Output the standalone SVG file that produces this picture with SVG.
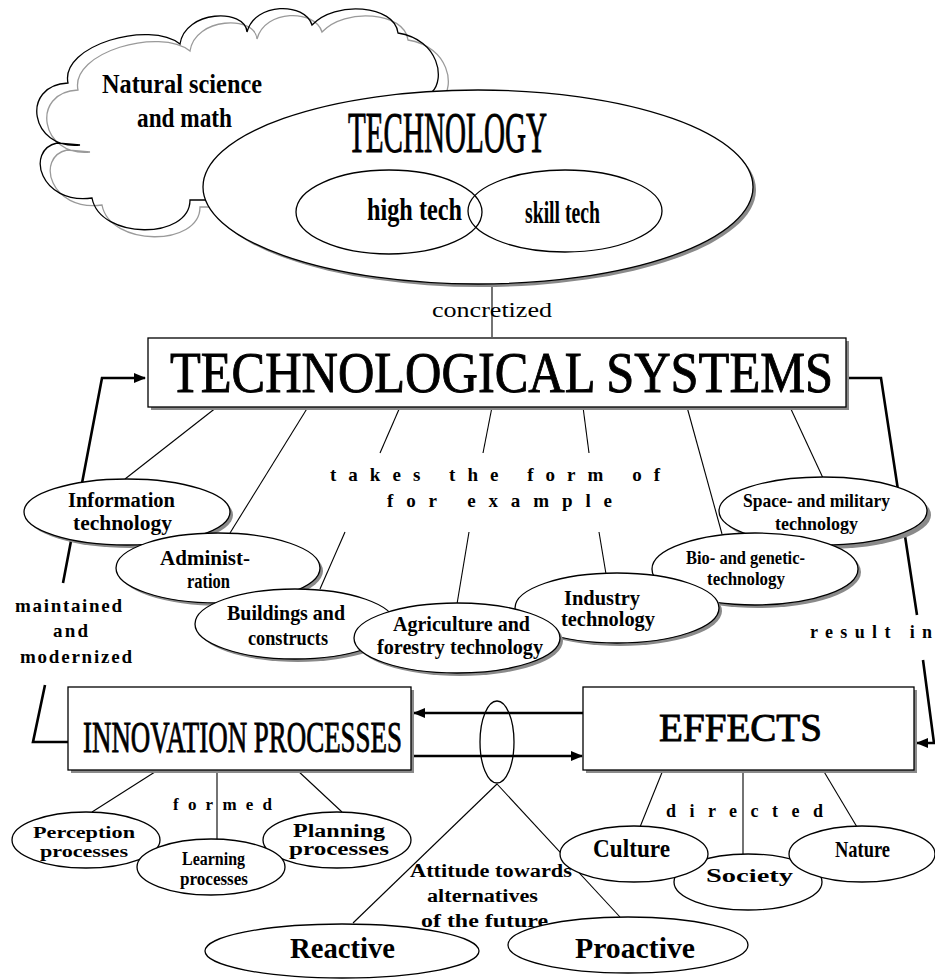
<svg xmlns="http://www.w3.org/2000/svg" width="935" height="979" viewBox="0 0 935 979">
<style>
.nd{fill:#fff;stroke:#000;stroke-width:1.3}
.no{fill:none;stroke:#000;stroke-width:1.3}
.sh{fill:#8a8a8a}
.ln{stroke:#000;stroke-width:1.1;fill:none}
.tk{stroke:#000;stroke-width:2.6;fill:none}
text{font-family:"Liberation Serif","Times New Roman",serif;fill:#000}
.b{font-weight:bold}
.hv{stroke:#000;stroke-width:0.9}
.cl{fill:none;stroke:#000;stroke-width:1.3}
.cg{fill:none;stroke:#9a9a9a;stroke-width:1.3}
</style>
<defs>
<marker id="ah" viewBox="0 0 12 10" refX="11" refY="5" markerWidth="12" markerHeight="10" orient="auto" markerUnits="userSpaceOnUse">
<path d="M0,0 L12,5 L0,10 Z" fill="#000"/>
</marker>
<path id="cloudp" d="M80,145 C30,150 20,85 68,83 C60,45 150,20 180,44 C185,10 245,8 247,32 C255,2 305,2 312,25 C335,0 395,5 398,33 C440,40 445,80 432,92 L432,200 L190,200 C190,240 100,240 92,198 C40,205 25,150 57,143 Z"/>
</defs>
<rect width="935" height="979" fill="#fff"/>

<g id="cloud">
<use href="#cloudp" class="cg" transform="translate(10,7)"/>
<use href="#cloudp" class="cl"/>
<text class="b" x="102" y="93" font-size="28" textLength="160" lengthAdjust="spacingAndGlyphs">Natural science</text>
<text class="b" x="137" y="127" font-size="28" textLength="95" lengthAdjust="spacingAndGlyphs">and math</text>
</g>

<g id="connectors">
<line class="ln" x1="492" y1="285" x2="492" y2="337"/>
<line class="ln" x1="217" y1="407" x2="125" y2="479"/>
<line class="ln" x1="308" y1="407" x2="230" y2="533"/>
<line class="ln" x1="400" y1="407" x2="380" y2="453"/>
<line class="ln" x1="345" y1="532" x2="320" y2="589"/>
<line class="ln" x1="492" y1="407" x2="483" y2="453"/>
<line class="ln" x1="469" y1="532" x2="457" y2="604"/>
<line class="ln" x1="583" y1="407" x2="589" y2="453"/>
<line class="ln" x1="599" y1="532" x2="606" y2="574"/>
<line class="ln" x1="687" y1="407" x2="722" y2="534"/>
<line class="ln" x1="790" y1="407" x2="823" y2="478"/>
<polyline class="tk" points="68,742 33,742 45,685"/>
<polyline class="tk" points="63,583 102,378 145,378" marker-end="url(#ah)"/>
<polyline class="tk" points="846,378 881,378 917,615"/>
<polyline class="tk" points="923,660 934,743 917,743" marker-end="url(#ah)"/>
<line class="tk" x1="583" y1="713" x2="414" y2="713" marker-end="url(#ah)"/>
<line class="tk" x1="414" y1="756" x2="582" y2="756" marker-end="url(#ah)"/>
<ellipse class="no" cx="497" cy="742" rx="17" ry="41"/>
<line class="ln" x1="497" y1="784" x2="353" y2="923"/>
<line class="ln" x1="497" y1="784" x2="620" y2="917"/>
<line class="ln" x1="158" y1="770" x2="92" y2="812"/>
<line class="ln" x1="217" y1="770" x2="217" y2="840"/>
<line class="ln" x1="297" y1="770" x2="342" y2="812"/>
<line class="ln" x1="663" y1="770" x2="640" y2="827"/>
<line class="ln" x1="743" y1="770" x2="743" y2="854"/>
<line class="ln" x1="823" y1="770" x2="857" y2="827"/>
</g>

<g id="technology">
<ellipse class="sh" cx="481" cy="190" rx="275" ry="97"/>
<ellipse class="nd" cx="478" cy="187" rx="275" ry="97"/>
<ellipse class="no" cx="389" cy="212" rx="93" ry="42"/>
<ellipse class="no" cx="565" cy="211" rx="97" ry="41"/>
<text class="hv" x="348" y="152" font-size="57" textLength="199" lengthAdjust="spacingAndGlyphs">TECHNOLOGY</text>
<text class="b" x="367" y="220" font-size="32" textLength="95" lengthAdjust="spacingAndGlyphs">high tech</text>
<text class="b" x="525" y="223" font-size="31" textLength="75" lengthAdjust="spacingAndGlyphs">skill tech</text>
</g>

<g id="label-concretized">
<text x="432" y="317" font-size="21" textLength="120" lengthAdjust="spacingAndGlyphs">concretized</text>
</g>

<g id="tech-systems">
<rect class="sh" x="151" y="341" width="698" height="69"/>
<rect class="nd" x="148" y="338" width="698" height="69"/>
<text class="hv" x="170" y="392" font-size="58" textLength="663" lengthAdjust="spacingAndGlyphs">TECHNOLOGICAL SYSTEMS</text>
</g>

<g id="label-takes">
<text class="b" x="330" y="481" font-size="19" textLength="330" lengthAdjust="spacing">takes the form of</text>
<text class="b" x="387" y="507" font-size="19" textLength="225" lengthAdjust="spacing">for example</text>
</g>

<g id="n-info">
<ellipse class="sh" cx="130" cy="515" rx="103" ry="33"/>
<ellipse class="nd" cx="127" cy="512" rx="103" ry="33"/>
<text class="b" x="68" y="507" font-size="20" textLength="107" lengthAdjust="spacingAndGlyphs">Information</text>
<text class="b" x="73" y="530" font-size="20" textLength="99" lengthAdjust="spacingAndGlyphs">technology</text>
</g>
<g id="n-admin">
<ellipse class="sh" cx="221" cy="571" rx="102" ry="35"/>
<ellipse class="nd" cx="218" cy="568" rx="102" ry="35"/>
<text class="b" x="160" y="565" font-size="20" textLength="90" lengthAdjust="spacingAndGlyphs">Administ-</text>
<text class="b" x="187" y="588" font-size="20" textLength="43" lengthAdjust="spacingAndGlyphs">ration</text>
</g>
<g id="n-buildings">
<ellipse class="sh" cx="298" cy="627" rx="100" ry="35"/>
<ellipse class="nd" cx="295" cy="624" rx="100" ry="35"/>
<text class="b" x="227" y="620" font-size="21" textLength="118" lengthAdjust="spacingAndGlyphs">Buildings and</text>
<text class="b" x="248" y="645" font-size="21" textLength="80" lengthAdjust="spacingAndGlyphs">constructs</text>
</g>
<g id="n-space">
<ellipse class="sh" cx="827" cy="515" rx="104" ry="34"/>
<ellipse class="nd" cx="823" cy="511" rx="104" ry="34"/>
<text class="b" x="743" y="507" font-size="19" textLength="147" lengthAdjust="spacingAndGlyphs">Space- and military</text>
<text class="b" x="775" y="530" font-size="19" textLength="83" lengthAdjust="spacingAndGlyphs">technology</text>
</g>
<g id="n-bio">
<ellipse class="sh" cx="758" cy="572" rx="103" ry="36"/>
<ellipse class="nd" cx="755" cy="569" rx="103" ry="36"/>
<text class="b" x="686" y="564" font-size="18" textLength="119" lengthAdjust="spacingAndGlyphs">Bio- and genetic-</text>
<text class="b" x="707" y="585" font-size="18" textLength="78" lengthAdjust="spacingAndGlyphs">technology</text>
</g>
<g id="n-industry">
<ellipse class="sh" cx="620" cy="611" rx="102" ry="35"/>
<ellipse class="nd" cx="617" cy="608" rx="102" ry="35"/>
<text class="b" x="564" y="605" font-size="21" textLength="76" lengthAdjust="spacingAndGlyphs">Industry</text>
<text class="b" x="561" y="626" font-size="20" textLength="94" lengthAdjust="spacingAndGlyphs">technology</text>
</g>
<g id="n-agri">
<ellipse class="sh" cx="460" cy="641" rx="103" ry="35"/>
<ellipse class="nd" cx="457" cy="638" rx="103" ry="35"/>
<text class="b" x="393" y="631" font-size="20" textLength="137" lengthAdjust="spacingAndGlyphs">Agriculture and</text>
<text class="b" x="377" y="654" font-size="20" textLength="166" lengthAdjust="spacingAndGlyphs">forestry technology</text>
</g>

<g id="label-maintained">
<text class="b" x="15" y="612" font-size="19" textLength="107" lengthAdjust="spacing">maintained</text>
<text class="b" x="53" y="637" font-size="19" textLength="35" lengthAdjust="spacing">and</text>
<text class="b" x="20" y="663" font-size="19" textLength="112" lengthAdjust="spacing">modernized</text>
</g>
<g id="label-result">
<text class="b" x="810" y="638" font-size="18" textLength="122" lengthAdjust="spacing">result in</text>
</g>

<g id="innovation">
<rect class="sh" x="71" y="690" width="343" height="83"/>
<rect class="nd" x="68" y="687" width="343" height="83"/>
<text class="hv" x="83" y="752" font-size="45" textLength="319" lengthAdjust="spacingAndGlyphs">INNOVATION PROCESSES</text>
</g>
<g id="effects">
<rect class="sh" x="586" y="690" width="331" height="83"/>
<rect class="nd" x="583" y="687" width="331" height="83"/>
<text class="hv" x="659" y="741" font-size="40" textLength="163" lengthAdjust="spacingAndGlyphs">EFFECTS</text>
</g>

<g id="label-formed">
<text class="b" x="173" y="810" font-size="17" textLength="99" lengthAdjust="spacing">formed</text>
</g>
<g id="n-perception">
<ellipse class="nd" cx="86" cy="840" rx="74" ry="28"/>
<text class="b" x="33" y="838" font-size="17" textLength="102" lengthAdjust="spacingAndGlyphs">Perception</text>
<text class="b" x="40" y="857" font-size="17" textLength="88" lengthAdjust="spacingAndGlyphs">processes</text>
</g>
<g id="n-planning">
<ellipse class="nd" cx="337" cy="840" rx="74" ry="28"/>
<text class="b" x="293" y="837" font-size="18" textLength="92" lengthAdjust="spacingAndGlyphs">Planning</text>
<text class="b" x="289" y="855" font-size="18" textLength="100" lengthAdjust="spacingAndGlyphs">processes</text>
</g>
<g id="n-learning">
<ellipse class="nd" cx="211" cy="867" rx="74" ry="28"/>
<text class="b" x="182" y="865" font-size="18" textLength="63" lengthAdjust="spacingAndGlyphs">Learning</text>
<text class="b" x="180" y="885" font-size="18" textLength="68" lengthAdjust="spacingAndGlyphs">processes</text>
</g>

<g id="label-directed">
<text class="b" x="666" y="817" font-size="18" textLength="157" lengthAdjust="spacing">directed</text>
</g>
<g id="n-society">
<ellipse class="nd" cx="748" cy="882" rx="74" ry="28"/>
<text class="b" x="706" y="882" font-size="19" textLength="87" lengthAdjust="spacingAndGlyphs">Society</text>
</g>
<g id="n-culture">
<ellipse class="nd" cx="634" cy="854" rx="74" ry="28"/>
<text class="b" x="593" y="857" font-size="25" textLength="77" lengthAdjust="spacingAndGlyphs">Culture</text>
</g>
<g id="n-nature">
<ellipse class="nd" cx="862" cy="854" rx="73" ry="28"/>
<text class="b" x="835" y="857" font-size="24" textLength="55" lengthAdjust="spacingAndGlyphs">Nature</text>
</g>

<g id="label-attitude">
<text class="b" x="410" y="877" font-size="18" textLength="162" lengthAdjust="spacingAndGlyphs">Attitude towards</text>
<text class="b" x="427" y="902" font-size="18" textLength="111" lengthAdjust="spacingAndGlyphs">alternatives</text>
<text class="b" x="421" y="927" font-size="18" textLength="127" lengthAdjust="spacingAndGlyphs">of  the future</text>
</g>
<g id="n-reactive">
<ellipse class="nd" cx="342" cy="951" rx="137" ry="27"/>
<text class="b" x="290" y="958" font-size="30" textLength="105" lengthAdjust="spacingAndGlyphs">Reactive</text>
</g>
<g id="n-proactive">
<ellipse class="nd" cx="628" cy="945" rx="120" ry="28"/>
<text class="b" x="575" y="958" font-size="30" textLength="120" lengthAdjust="spacingAndGlyphs">Proactive</text>
</g>
</svg>
